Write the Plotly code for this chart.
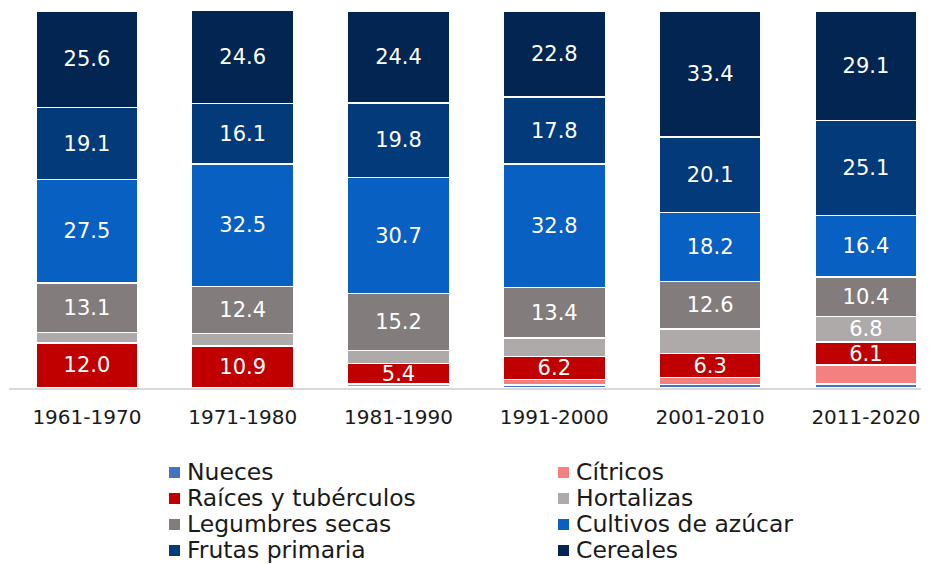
import plotly.graph_objects as go

decades = ["1961-1970", "1971-1980", "1981-1990", "1991-2000", "2001-2010", "2011-2020"]

nueces = [0.0, 0.1, 0.3, 0.8, 0.9, 1.0]
citricos = [0.0, 0.1, 0.8, 1.4, 1.9, 5.1]
raices = [12.0, 10.9, 5.4, 6.2, 6.3, 6.1]
hortalizas = [2.7, 3.4, 3.4, 4.8, 6.6, 6.8]
legumbres = [13.1, 12.4, 15.2, 13.4, 12.6, 10.4]
azucar = [27.5, 32.5, 30.7, 32.8, 18.2, 16.4]
frutas = [19.1, 16.1, 19.8, 17.8, 20.1, 25.1]
cereales = [25.6, 24.6, 24.4, 22.8, 33.4, 29.1]

# which segments carry a data label in the original chart
show_nueces = [False] * 6
show_citricos = [False] * 6
show_raices = [True] * 6
show_hortalizas = [False, False, False, False, False, True]
show_legumbres = [True] * 6
show_azucar = [True] * 6
show_frutas = [True] * 6
show_cereales = [True] * 6

series_names = ["Nueces", "Cítricos", "Raíces y tubérculos", "Hortalizas",
                "Legumbres secas", "Cultivos de azúcar", "Frutas primaria", "Cereales"]
series_values = [nueces, citricos, raices, hortalizas, legumbres, azucar, frutas, cereales]
series_show = [show_nueces, show_citricos, show_raices, show_hortalizas,
               show_legumbres, show_azucar, show_frutas, show_cereales]
series_colors = ["#4472C4", "#F48080", "#C00000", "#AEAAAA",
                 "#827C7C", "#0860C2", "#033A7A", "#022651"]

FONT = "DejaVu Sans"
TXT = "#1a1a1a"

# figure geometry (page body adds an 8px offset)
W, H = 921, 556
ML, MR, MT, MB = 1, 0, 3, 176
PW, PH = W - ML - MR, H - MT - MB
OFF = 8


def px_to_paper_x(px):
    return (px - OFF - ML) / PW


def px_to_paper_y(py):
    return (H - MB - (py - OFF)) / PH


fig = go.Figure()
for name, vals, show, color in zip(series_names, series_values, series_show, series_colors):
    fig.add_trace(go.Bar(
        name=name, x=decades, y=vals,
        text=[f"{v:.1f}" if s else "" for v, s in zip(vals, show)],
        textposition="inside", insidetextanchor="middle",
        textfont=dict(color="white", size=21, family=FONT),
        marker=dict(color=color, line=dict(color="white", width=1.5)),
        hoverinfo="skip", showlegend=False,
    ))

# legend drawn in two columns, row-wise order as in the original
col_marker_px = [169, 558]
row_center_px = [472, 498, 524, 550]
shapes, annotations = [], []
for i, (name, color) in enumerate(zip(series_names, series_colors)):
    col, row = i % 2, i // 2
    mx, cy = col_marker_px[col], row_center_px[row]
    shapes.append(dict(type="rect", xref="paper", yref="paper",
                       x0=px_to_paper_x(mx), x1=px_to_paper_x(mx + 11),
                       y0=px_to_paper_y(cy + 6), y1=px_to_paper_y(cy - 5),
                       fillcolor=color, line=dict(width=0)))
    annotations.append(dict(xref="paper", yref="paper", x=px_to_paper_x(mx + 16),
                            y=px_to_paper_y(cy), xanchor="left", yanchor="middle",
                            text=name, showarrow=False,
                            font=dict(size=23.5, family=FONT, color=TXT)))

fig.update_layout(
    barmode="stack", bargap=0.345,
    width=W, height=H,
    margin=dict(l=ML, r=MR, t=MT, b=MB, autoexpand=False),
    paper_bgcolor="white", plot_bgcolor="white",
    font=dict(family=FONT, size=21, color=TXT),
    uniformtext=dict(minsize=21, mode="show"),
    showlegend=False,
    shapes=shapes, annotations=annotations,
    xaxis=dict(showline=True, linecolor="#d9d9d9", linewidth=2, ticks="",
               range=[-0.5, 5.405], ticklabelstandoff=10,
               tickfont=dict(size=20, family=FONT, color=TXT)),
    yaxis=dict(visible=False, range=[0, 100]),
)

fig.write_html("out.html")
